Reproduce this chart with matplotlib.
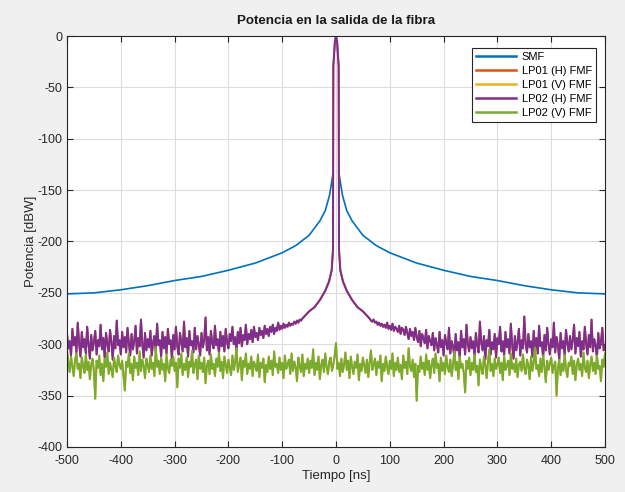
import numpy as np
import matplotlib.pyplot as plt

plt.rcParams['font.family'] = ['Liberation Sans', 'DejaVu Sans']
plt.rcParams['axes.unicode_minus'] = False

# SMF: curva suave (simétrica), el centro t=0 queda sin dato
smf_t = [-500, -450, -400, -350, -300, -250, -200, -150, -100, -75, -50, -30, -20, -12, -8, -5, 0,
         5, 8, 12, 20, 30, 50, 75, 100, 150, 200, 250, 300, 350, 400, 450, 500]
smf_p = [-251, -250, -247, -243, -238, -234, -228, -221, -211, -204, -194, -180, -170, -155, -142, -132, np.nan,
         -132, -142, -155, -170, -180, -194, -204, -211, -221, -228, -234, -238, -243, -247, -250, -251]

# LP02 (H): zona central
lp02h_t_centro = [-62.5, -50, -40, -30, -20, -13, -8, -5.6, -5.0, -2, 0, 2, 5.0, 5.6, 8, 13, 20, 30, 40, 50, 62.5]
lp02h_p_centro = [-275, -268, -264, -257, -248, -239, -228, -208, -30, -5, 0, -5, -30, -208, -228, -239, -248,
                  -257, -264, -268, -275]

# LP02 (H): ruido a la izquierda (-500 .. -65) y a la derecha (65 .. 500), paso 2.5 ns
lp02h_p_izq = [
    -290, -304, -297, -311, -285, -301, -293, -308, -279, -299, -312, -288, -303, -295, -309, -283, -300, -314, -291, -306, -298, -287, -310, -296, -302,
    -281, -305, -294, -313, -289, -300, -307, -286, -298, -315, -292, -304, -277, -301, -296, -310, -288, -303, -293, -308, -284, -299, -311, -290, -305,
    -297, -282, -309, -294, -302, -276, -300, -313, -289, -306, -295, -303, -287, -311, -298, -292, -307, -280, -301, -296, -312, -288, -304, -293, -309,
    -285, -300, -296, -314, -291, -305, -283, -302, -310, -289, -298, -307, -278, -303, -294, -312, -287, -301, -297, -308, -284, -305, -292, -300, -311,
    -289, -303, -296, -274, -306, -293, -310, -287, -299, -304, -282, -301, -295, -309, -288, -302, -292, -307, -285, -298, -304, -290, -297, -283, -300,
    -293, -306, -288, -299, -284, -302, -291, -296, -281, -300, -290, -295, -286, -298, -283, -293, -289, -296, -284, -291, -287, -294, -282, -290, -285,
    -292, -283, -288, -281, -290, -284, -287, -279, -286, -282, -285, -280, -284, -281, -283, -279, -282, -280, -281, -278, -280, -277, -279, -276, -277]
lp02h_p_der = [
    -277, -278, -276, -279, -278, -281, -279, -282, -280, -283, -281, -284, -279, -285, -282, -286, -280, -287, -283, -285, -288, -282, -290, -284, -286,
    -291, -283, -289, -295, -285, -292, -288, -296, -284, -293, -298, -287, -302, -290, -294, -299, -286, -304, -292, -297, -301, -289, -306, -294, -300,
    -308, -288, -303, -296, -311, -291, -299, -305, -284, -309, -297, -302, -312, -290, -306, -298, -314, -287, -303, -295, -310, -281, -300, -307, -293,
    -304, -297, -312, -289, -301, -308, -278, -299, -306, -292, -315, -296, -302, -286, -310, -298, -305, -290, -313, -294, -300, -283, -307, -297, -311,
    -288, -303, -295, -309, -280, -301, -314, -292, -306, -298, -285, -311, -296, -304, -273, -300, -308, -290, -303, -297, -312, -287, -305, -294, -309,
    -282, -302, -298, -313, -291, -306, -284, -300, -310, -295, -303, -279, -308, -293, -301, -315, -289, -304, -297, -311, -286, -299, -307, -292, -305,
    -296, -281, -309, -294, -302, -288, -312, -297, -305, -283, -300, -310, -291, -303, -276, -307, -295, -301, -313, -289, -304, -298, -284, -306, -302]

# LP02 (V): ruido, -500 .. 500 con paso 2.5 ns
lp02v_p = [
    -306, -318, -327, -312, -322, -331, -315, -309, -324, -319, -333, -313, -321, -328, -310, -325, -317, -334, -320, -314,
    -326, -353, -316, -323, -311, -330, -319, -336, -314, -322, -308, -329, -318, -325, -332, -313, -321, -327, -311, -320,
    -324, -316, -331, -345, -317, -322, -309, -328, -319, -335, -312, -323, -318, -330, -307, -326, -315, -321, -333, -314,
    -320, -327, -311, -324, -318, -331, -303, -322, -316, -329, -313, -325, -319, -336, -310, -323, -328, -315, -321, -312,
    -326, -318, -342, -314, -323, -309, -330, -319, -325, -313, -332, -317, -322, -306, -328, -320, -315, -334, -311, -324,
    -318, -327, -313, -338, -321, -316, -329, -310, -324, -319, -331, -314, -322, -308, -326, -317, -333, -312, -320, -328,
    -315, -323, -330, -311, -325, -318, -304, -327, -320, -313, -335, -316, -322, -309, -329, -319, -324, -312, -331, -317,
    -321, -326, -310, -332, -318, -323, -314, -337, -320, -327, -312, -324, -316, -330, -307, -322, -319, -328, -313, -325,
    -318, -333, -311, -324, -320, -315, -329, -309, -326, -317, -322, -336, -313, -321, -327, -310, -331, -319, -324, -314,
    -328, -316, -323, -305, -330, -318, -325, -312, -334, -320, -315, -327, -309, -322, -329, -317, -313, -326, -320, -311,
    -299, -324, -318, -331, -314, -327, -320, -308, -325, -316, -333, -312, -322, -329, -317, -323, -310, -335, -319, -326,
    -313, -321, -328, -315, -332, -318, -306, -325, -320, -314, -330, -317, -323, -311, -336, -319, -326, -312, -322, -329,
    -316, -324, -309, -331, -318, -325, -313, -327, -320, -334, -311, -323, -317, -329, -304, -322, -326, -315, -332, -319,
    -355, -321, -327, -312, -324, -318, -330, -310, -325, -316, -333, -320, -314, -328, -309, -323, -319, -336, -313, -326,
    -318, -329, -311, -322, -327, -315, -331, -320, -307, -325, -317, -334, -312, -323, -319, -328, -347, -316, -324, -313,
    -330, -318, -325, -310, -327, -321, -340, -315, -323, -329, -312, -320, -333, -317, -305, -326, -319, -331, -314, -324,
    -320, -313, -328, -318, -335, -311, -325, -321, -316, -330, -309, -324, -319, -327, -314, -332, -320, -317, -326, -310,
    -323, -329, -315, -321, -334, -312, -326, -318, -303, -324, -320, -331, -314, -327, -311, -322, -337, -316, -325, -319,
    -313, -328, -321, -317, -350, -323, -315, -330, -319, -326, -310, -324, -332, -318, -321, -312, -329, -316, -335, -320,
    -314, -325, -319, -331, -308, -323, -327, -316, -333, -320, -312, -326, -318, -329, -311, -324, -321, -336, -315, -322,
    -309]

t_ruido = np.linspace(-500, 500, len(lp02v_p))
t_izq = np.linspace(-500, -65, len(lp02h_p_izq))
t_der = np.linspace(65, 500, len(lp02h_p_der))
lp02h_t = np.concatenate([t_izq, lp02h_t_centro, t_der])
lp02h_p = np.concatenate([lp02h_p_izq, lp02h_p_centro, lp02h_p_der])

fig = plt.figure(figsize=(6.25, 4.92), dpi=100, facecolor='#f0f0f0')
ax = fig.add_axes([0.1072, 0.0915, 0.8608, 0.8353])

ax.plot(smf_t, smf_p, color='#0072BD', lw=1.2, label='SMF')
ax.plot(lp02h_t, lp02h_p, color='#D95319', lw=1.4, label='LP01 (H) FMF')
ax.plot(t_ruido, lp02v_p, color='#EDB120', lw=1.4, label='LP01 (V) FMF')
ax.plot(lp02h_t, lp02h_p, color='#7E2F8E', lw=1.4, label='LP02 (H) FMF')
ax.plot(t_ruido, lp02v_p, color='#77AC30', lw=1.4, label='LP02 (V) FMF')

ax.set_xlim(-500, 500)
ax.set_ylim(-400, 0)
ax.set_xticks(np.arange(-500, 501, 100))
ax.set_yticks(np.arange(-400, 1, 50))
ax.grid(True, color='#dcdcdc', lw=0.8)
ax.set_axisbelow(True)
ax.tick_params(direction='in', top=True, right=True, labelsize=9, colors='#262626', length=4)
ax.tick_params(axis='x', pad=6)
for s in ax.spines.values():
    s.set_color('#262626')
    s.set_linewidth(0.8)

ax.set_title('Potencia en la salida de la fibra', fontsize=9.6, fontweight='bold', color='#1a1a1a', pad=9)
ax.set_xlabel('Tiempo [ns]', fontsize=9.5, color='#262626', labelpad=2)
ax.set_ylabel('Potencia [dBW]', fontsize=9.5, color='#262626', labelpad=0)

leg = ax.legend(loc='upper right', fontsize=8, fancybox=False, framealpha=1,
                edgecolor='#262626', handlelength=3.6, borderaxespad=0.5,
                labelspacing=0.35, handletextpad=0.5, borderpad=0.4,
                bbox_to_anchor=(0.994, 0.985))
leg.get_frame().set_linewidth(0.8)
for l in leg.get_lines():
    l.set_linewidth(1.8)

fig.savefig('out.png', dpi=100, facecolor=fig.get_facecolor())
